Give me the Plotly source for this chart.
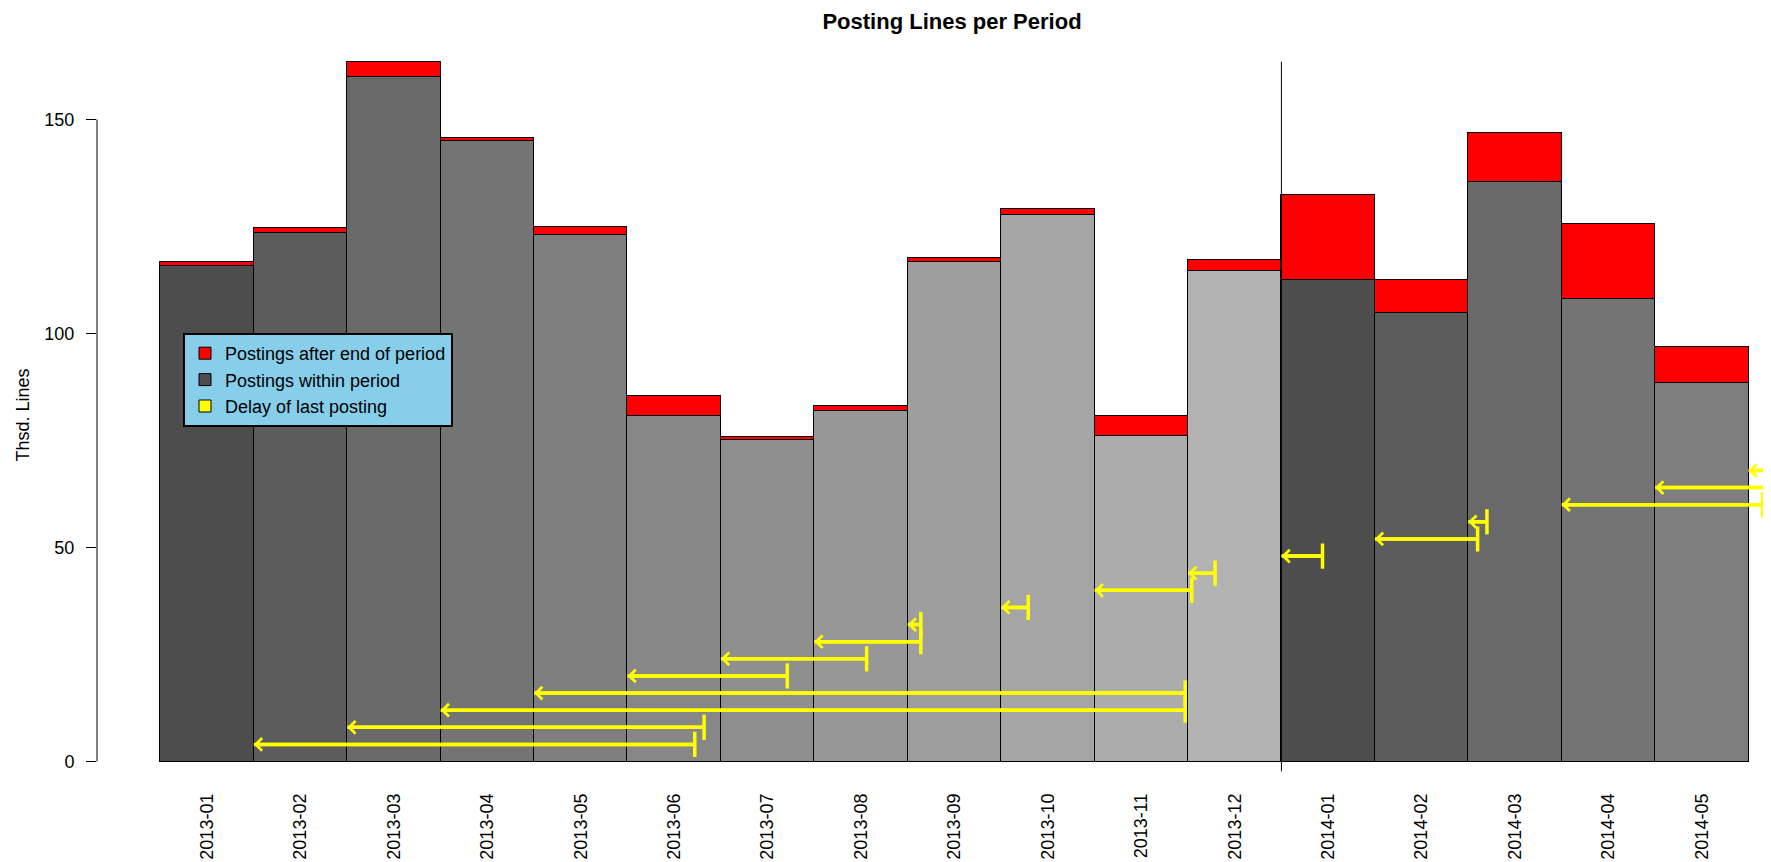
import plotly.graph_objects as go

# ---------------- data ----------------
periods = ["2013-01", "2013-02", "2013-03", "2013-04", "2013-05", "2013-06",
           "2013-07", "2013-08", "2013-09", "2013-10", "2013-11", "2013-12",
           "2014-01", "2014-02", "2014-03", "2014-04", "2014-05"]
within_period = [115.7, 123.4, 160.0, 144.9, 123.0, 80.7, 75.1, 82.0, 116.7,
                 127.8, 76.0, 114.7, 112.6, 104.8, 135.4, 108.1, 88.5]
after_period = [0.9, 1.2, 3.5, 0.8, 1.9, 4.7, 0.8, 1.1, 1.0,
                1.2, 4.8, 2.5, 19.7, 7.6, 11.4, 17.6, 8.4]
# delay arrows: period end (months since 2013-01) -> last posting (months since 2013-01)
period_end = [1, 2, 3, 4, 5, 6, 7, 8, 9, 10, 11, 12, 13, 14, 15, 16, 17]
last_posting = [5.72, 5.82, 10.97, 10.97, 6.71, 7.56, 8.14, 8.14, 9.29,
                11.04, 11.29, 12.44, 14.10, 14.20, 17.15, 17.6, 18.2]
arrow_level = [4, 8, 12, 16, 20, 24, 28, 32, 36, 40, 44, 48, 52, 56, 60, 64, 68]
y_ticks = [0, 50, 100, 150]
year_break = 12
year_break_span = [-2.3, 163.5]

# ---------------- style ----------------
FONT = "Liberation Sans, Arial, Helvetica, sans-serif"
grey_by_month = ["#4D4D4D", "#5C5C5C", "#696969", "#747474", "#7E7E7E", "#878787",
                 "#8F8F8F", "#979797", "#9E9E9E", "#A5A5A5", "#ACACAC", "#B3B3B3"]
bar_colors = [grey_by_month[int(p[5:]) - 1] for p in periods]
x_centers = [i + 0.5 for i in range(len(periods))]
YELLOW = "#FFFF00"

# page coordinates (window 1771x862); the page body has an 8px margin
PAGE_W, PAGE_H, OFF = 1771, 862, 8
W, H = PAGE_W - OFF, PAGE_H - OFF
plot_left, plot_right, plot_top, plot_bottom = 97, 1771, 32, 775   # page px
L = plot_left - OFF
R = W - (plot_right - OFF)
T = plot_top - OFF
B = H - (plot_bottom - OFF)
plot_w = W - L - R
plot_h = H - T - B


def paper_x(px):
    return (px - plot_left) / plot_w


def paper_y(py):
    return (plot_bottom - py) / plot_h


fig = go.Figure()

fig.add_trace(go.Bar(
    x=x_centers, y=within_period, width=1,
    marker=dict(color=bar_colors, line=dict(color="black", width=1)),
    name="Postings within period", legendrank=2, hoverinfo="skip"))
fig.add_trace(go.Bar(
    x=x_centers, y=after_period, width=1,
    marker=dict(color="#FF0000", line=dict(color="black", width=1)),
    name="Postings after end of period", legendrank=1, hoverinfo="skip"))

# year separator
fig.add_trace(go.Scatter(
    x=[year_break, year_break], y=year_break_span, mode="lines",
    line=dict(color="black", width=1), showlegend=False, hoverinfo="skip"))

# delay arrows (shafts)
ax_x, ax_y = [], []
for s, e, h in zip(period_end, last_posting, arrow_level):
    ax_x += [s, e, None]
    ax_y += [h, h, None]
fig.add_trace(go.Scatter(
    x=ax_x, y=ax_y, mode="lines", line=dict(color=YELLOW, width=3.5),
    showlegend=False, hoverinfo="skip"))
# caps at last posting
fig.add_trace(go.Scatter(
    x=last_posting, y=arrow_level, mode="markers", cliponaxis=False,
    marker=dict(symbol="line-ns", size=18, line=dict(color=YELLOW, width=3.5)),
    showlegend=False, hoverinfo="skip"))
# legend entry for delay
fig.add_trace(go.Scatter(
    x=[None], y=[None], mode="markers", name="Delay of last posting", legendrank=3,
    marker=dict(symbol="square", size=12, color=YELLOW, line=dict(color="black", width=1))))

# arrow heads
for s, e, h in zip(period_end, last_posting, arrow_level):
    fig.add_annotation(x=s, y=h, xref="x", yref="y", ax=e, ay=h, axref="x", ayref="y",
                       text="", showarrow=True, arrowhead=4, arrowsize=0.7,
                       arrowwidth=3.5, arrowcolor=YELLOW)

# y-axis spine (0..150 only)
fig.add_shape(type="line", xref="paper", yref="y", x0=0, x1=0,
              y0=min(y_ticks), y1=max(y_ticks), line=dict(color="black", width=1))

# y-axis title
fig.add_annotation(text="Thsd. Lines", xref="paper", yref="paper",
                   x=paper_x(22.5), y=paper_y(415),
                   textangle=-90, showarrow=False, xanchor="center", yanchor="middle",
                   font=dict(family=FONT, size=18, color="black"))

fig.update_layout(
    width=W, height=H,
    margin=dict(l=L, r=R, t=T, b=B, autoexpand=False),
    paper_bgcolor="white", plot_bgcolor="white",
    barmode="stack", bargap=0,
    font=dict(family=FONT, size=18, color="black"),
    title=dict(text="Posting Lines per Period", x=(952 - OFF) / W, xref="container",
               xanchor="center", y=1 - (21 - OFF) / H, yref="container", yanchor="middle",
               font=dict(family=FONT, size=22, color="black", weight="bold")),
    xaxis=dict(range=[-0.6787, 17.2408], tickvals=x_centers, ticktext=periods,
               tickangle=-90, showgrid=False, zeroline=False, showline=False,
               ticks="", ticklabelstandoff=14,
               tickfont=dict(family=FONT, size=18, color="black")),
    yaxis=dict(range=[-3.15, 170.45], tickvals=y_ticks, showgrid=False,
               zeroline=False, showline=False, ticks="outside", ticklen=10,
               tickcolor="black", tickwidth=1, ticklabelstandoff=8,
               tickfont=dict(family=FONT, size=18, color="black")),
    legend=dict(x=paper_x(183), y=paper_y(333),
                xanchor="left", yanchor="top", traceorder="normal",
                bgcolor="#87CEEB", bordercolor="black", borderwidth=2,
                entrywidth=235, entrywidthmode="pixels",
                font=dict(family=FONT, size=18, color="black")),
    showlegend=True,
)

fig.write_html("out.html")
